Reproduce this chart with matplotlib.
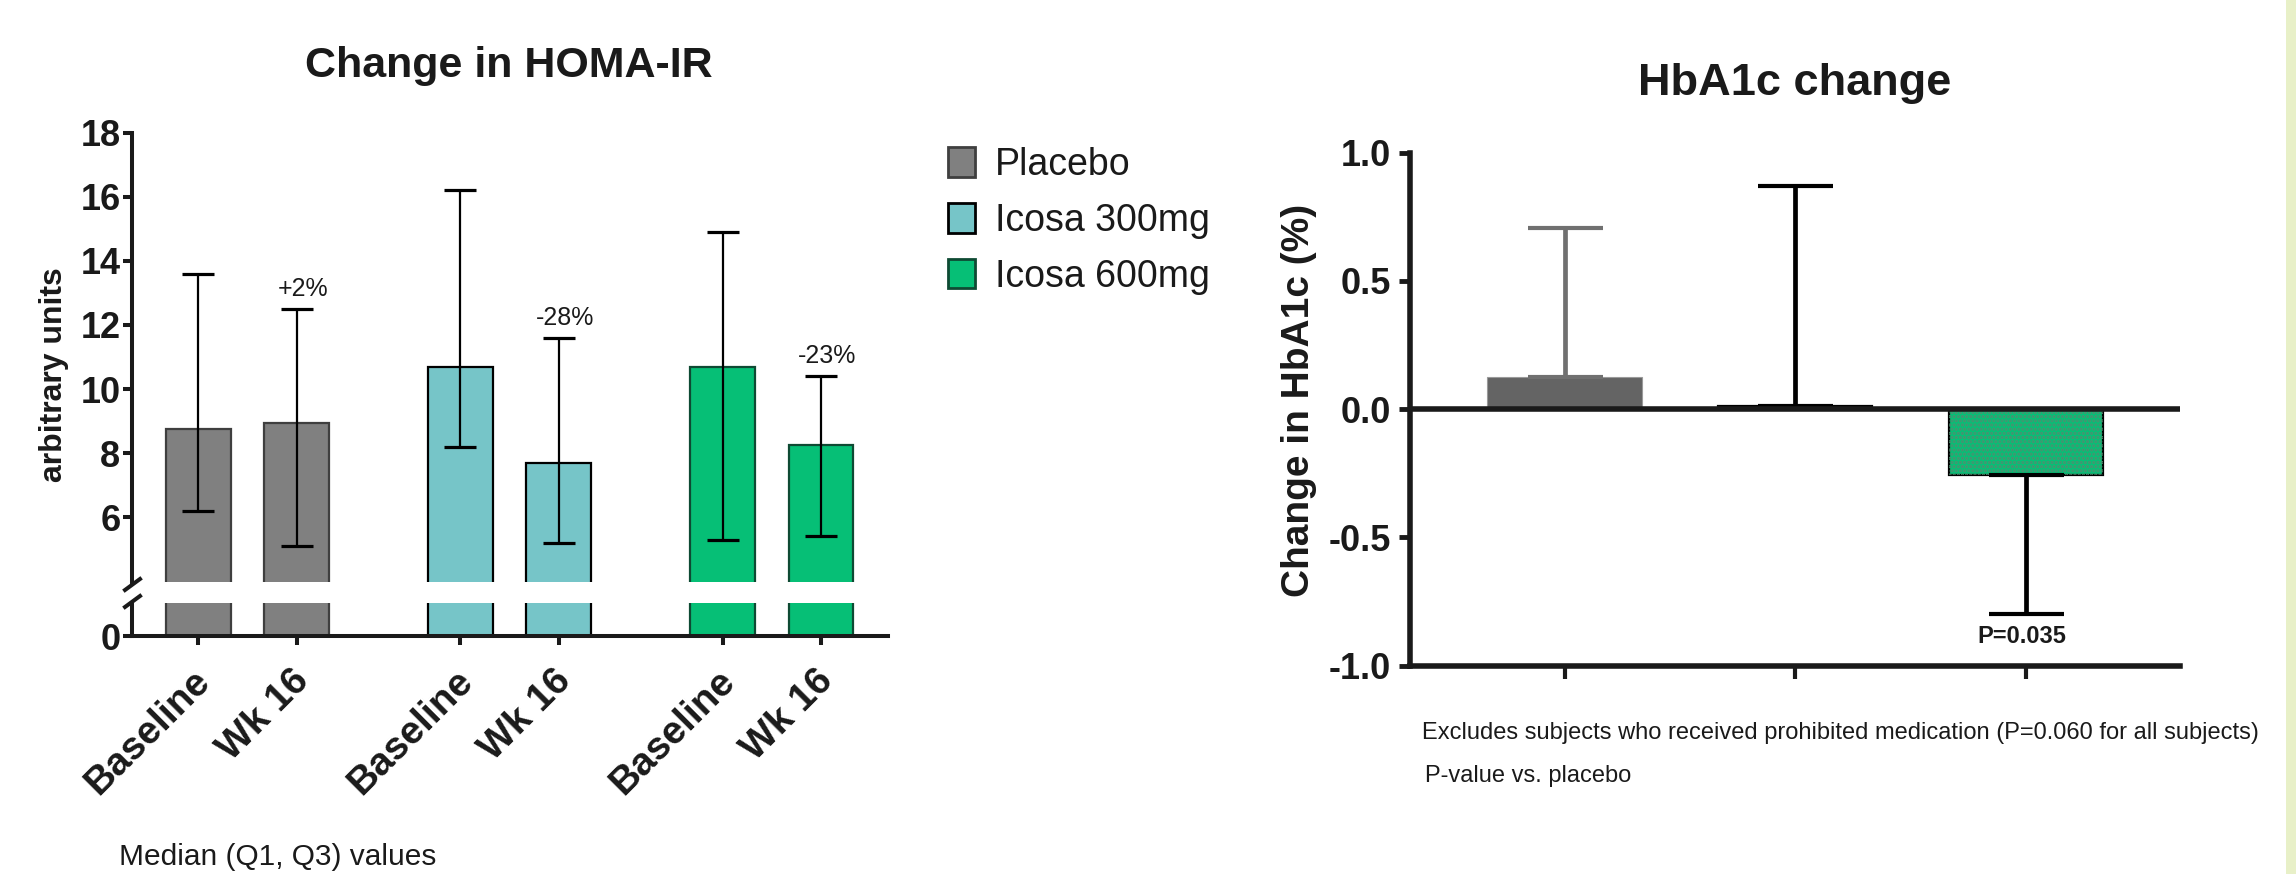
import matplotlib
matplotlib.use('Agg')
import matplotlib.pyplot as plt
import matplotlib.transforms as mtransforms
from matplotlib.patches import Patch, Rectangle
from matplotlib.lines import Line2D
import numpy as np

plt.rcParams['font.family'] = ['Liberation Sans', 'DejaVu Sans']
plt.rcParams['axes.unicode_minus'] = False
plt.rcParams['hatch.linewidth'] = 1.6

# ---------------- data ----------------
groups = ['Placebo', 'Icosa 300mg', 'Icosa 600mg']
timepoints = ['Baseline', 'Wk 16']
homa_median = [8.75, 8.95, 10.7, 7.7, 10.7, 8.25]
homa_q1 = [6.2, 5.1, 8.2, 5.2, 5.3, 5.4]
homa_q3 = [13.6, 12.5, 16.2, 11.6, 14.9, 10.4]
homa_pct = ['', '+2%', '', '-28%', '', '-23%']
homa_yticks = [6, 8, 10, 12, 14, 16, 18]

hba1c_change = [0.125, 0.013, -0.257]
hba1c_err_end = [0.705, 0.87, -0.80]
hba1c_p = ['', '', 'P=0.035']
hba1c_yticks = [-1.0, -0.5, 0.0, 0.5, 1.0]
hba1c_yticklabels = ['-1.0', '-0.5', '0.0', '0.5', '1.0']

fills = ['#808080', '#76C5C8', '#06BF76']
edges = ['#3f3f3f', '#000000', '#0E4A33']
INK = '#1a1a1a'

W, H = 2296, 874
fig = plt.figure(figsize=(W / 100, H / 100), dpi=100)


def fx(px):
    return px / W


def fy(py):
    return 1 - py / H


# ---------------- left chart: HOMA-IR (broken axis) ----------------
xpos = np.array([g * 2.6667 + t for g in range(3) for t in range(2)])
bar_fill = [fills[i // 2] for i in range(6)]
bar_edge = [edges[i // 2] for i in range(6)]
xl = (-0.671, 7.015)

axT = fig.add_axes([fx(132.3), fy(582), fx(888) - fx(132.3), (582 - 132.7) / H])
axB = fig.add_axes([fx(132.3), fy(636), fx(888) - fx(132.3), (636 - 602.7) / H])

for ax in (axT, axB):
    ax.bar(xpos, homa_median, width=0.658, color=bar_fill, edgecolor=bar_edge,
           linewidth=1.6, zorder=2)
    ax.set_xlim(*xl)
    ax.spines['top'].set_visible(False)
    ax.spines['right'].set_visible(False)
    ax.spines['left'].set_linewidth(2.9)
    ax.spines['left'].set_color(INK)
    ax.spines['bottom'].set_linewidth(2.9)
    ax.spines['bottom'].set_color(INK)
    ax.tick_params(axis='y', length=6.5, width=2.9, labelsize=26, pad=2,
                   color=INK, labelcolor=INK)

axT.spines['bottom'].set_visible(False)
axT.set_ylim(3.98, 18)
axT.set_yticks(homa_yticks)
axT.set_yticklabels([str(v) for v in homa_yticks], fontweight='bold')
axT.set_xticks([])

med = np.array(homa_median)
axT.errorbar(xpos, med, yerr=[med - np.array(homa_q1), np.array(homa_q3) - med],
             fmt='none', ecolor='black', elinewidth=1.6, capsize=11.5,
             capthick=2.3, zorder=3)
for xi, q3, txt in zip(xpos, homa_q3, homa_pct):
    if txt:
        axT.annotate(txt, (xi, q3), xytext=(4.5, 9.5), textcoords='offset points',
                     ha='center', va='baseline', fontsize=18, color=INK)

axB.set_ylim(0, 1.04)
axB.set_yticks([0])
axB.set_yticklabels(['0'], fontweight='bold')
axB.set_xticks(xpos)
axB.set_xticklabels(timepoints * 3, rotation=45, ha='right',
                    rotation_mode='anchor', fontsize=28, fontweight='bold',
                    color=INK)
axB.tick_params(axis='x', length=6.5, width=2.9, pad=13, color=INK)
shift = mtransforms.ScaledTranslation(-6 / 100, 0, fig.dpi_scale_trans)
for lab in axB.get_xticklabels():
    lab.set_transform(lab.get_transform() + shift)

# break marks on the y axis
for y0, y1 in [(590, 579), (607, 596)]:
    fig.add_artist(Line2D([fx(125), fx(140)], [fy(y0), fy(y1)],
                          transform=fig.transFigure, color=INK, lw=2.9))

fig.text(fx(508.7), fy(66.5), 'Change in HOMA-IR', ha='center', va='center',
         fontsize=31, fontweight='bold', color=INK)
fig.text(fx(54), fy(375), 'arbitrary units', rotation=90, ha='center',
         va='center', fontsize=23, fontweight='bold', color=INK)
fig.text(fx(119.3), fy(857), 'Median (Q1, Q3) values', ha='left', va='center',
         fontsize=21.5, color=INK)

handles = [Patch(facecolor=f, edgecolor=e, linewidth=2) for f, e in zip(fills, edges)]
fig.legend(handles, groups, loc='upper left', bbox_to_anchor=(fx(948.3), fy(147)),
           frameon=False, fontsize=27, handlelength=0.72, handleheight=0.83,
           handletextpad=0.53, labelspacing=0.53, borderpad=0, borderaxespad=0,
           labelcolor=INK)

# ---------------- right chart: HbA1c change ----------------
axR = fig.add_axes([fx(1410), fy(665.5), fx(2180) - fx(1410), (665.5 - 152.7) / H])
xr = np.arange(3)
r_fill = ['#646464', '#76C5C8', '#06BF76']
r_edge = ['#9a9a9a', '#000000', '#000000']
axR.bar(xr, hba1c_change, width=0.667, color=r_fill, edgecolor=r_edge,
        linewidth=[0.8, 1.6, 1.6], zorder=2)
axR.bar(xr[2:], hba1c_change[2:], width=0.667, fill=False, hatch='....',
        edgecolor='#4f8f70', linewidth=0, zorder=2.1)

err_colors = ['#707070', 'black', 'black']
for xi, v, e, c in zip(xr, hba1c_change, hba1c_err_end, err_colors):
    lo = max(v - e, 0)
    hi = max(e - v, 0)
    axR.errorbar([xi], [v], yerr=[[lo], [hi]], fmt='none', ecolor=c,
                 elinewidth=3.4, capsize=27, capthick=3, zorder=3)

axR.axhline(0, color=INK, lw=4, zorder=4)
for xi, e, txt in zip(xr, hba1c_err_end, hba1c_p):
    if txt:
        axR.annotate(txt, (xi, e), xytext=(-3, -8), textcoords='offset points',
                     ha='center', va='top', fontsize=17, fontweight='bold',
                     color=INK)

axR.set_xlim(-0.669, 2.665)
axR.set_ylim(-1, 1)
axR.set_yticks(hba1c_yticks)
axR.set_yticklabels(hba1c_yticklabels, fontweight='bold')
axR.set_xticks(xr)
axR.set_xticklabels([])
axR.spines['top'].set_visible(False)
axR.spines['right'].set_visible(False)
for s in ('left', 'bottom'):
    axR.spines[s].set_linewidth(4)
    axR.spines[s].set_color(INK)
axR.tick_params(axis='y', length=8, width=3.5, labelsize=26, pad=6,
                color=INK, labelcolor=INK)
axR.tick_params(axis='x', length=9.5, width=3, color=INK)

fig.text(fx(1794.5), fy(84), 'HbA1c change', ha='center', va='center',
         fontsize=32.5, fontweight='bold', color=INK)
fig.text(fx(1299), fy(400.5), 'Change in HbA1c (%)', rotation=90, ha='center',
         va='center', fontsize=28, fontweight='bold', color=INK)
fig.text(fx(1422), fy(733),
         'Excludes subjects who received prohibited medication (P=0.060 for all subjects)',
         ha='left', va='center', fontsize=17, color=INK)
fig.text(fx(1425), fy(776), 'P-value vs. placebo', ha='left', va='center',
         fontsize=17, color=INK)

fig.add_artist(Rectangle((fx(2286), 0), fx(10), 1, transform=fig.transFigure,
                         facecolor='#E8F0C8', edgecolor='none'))

fig.savefig('out.png', dpi=100)
